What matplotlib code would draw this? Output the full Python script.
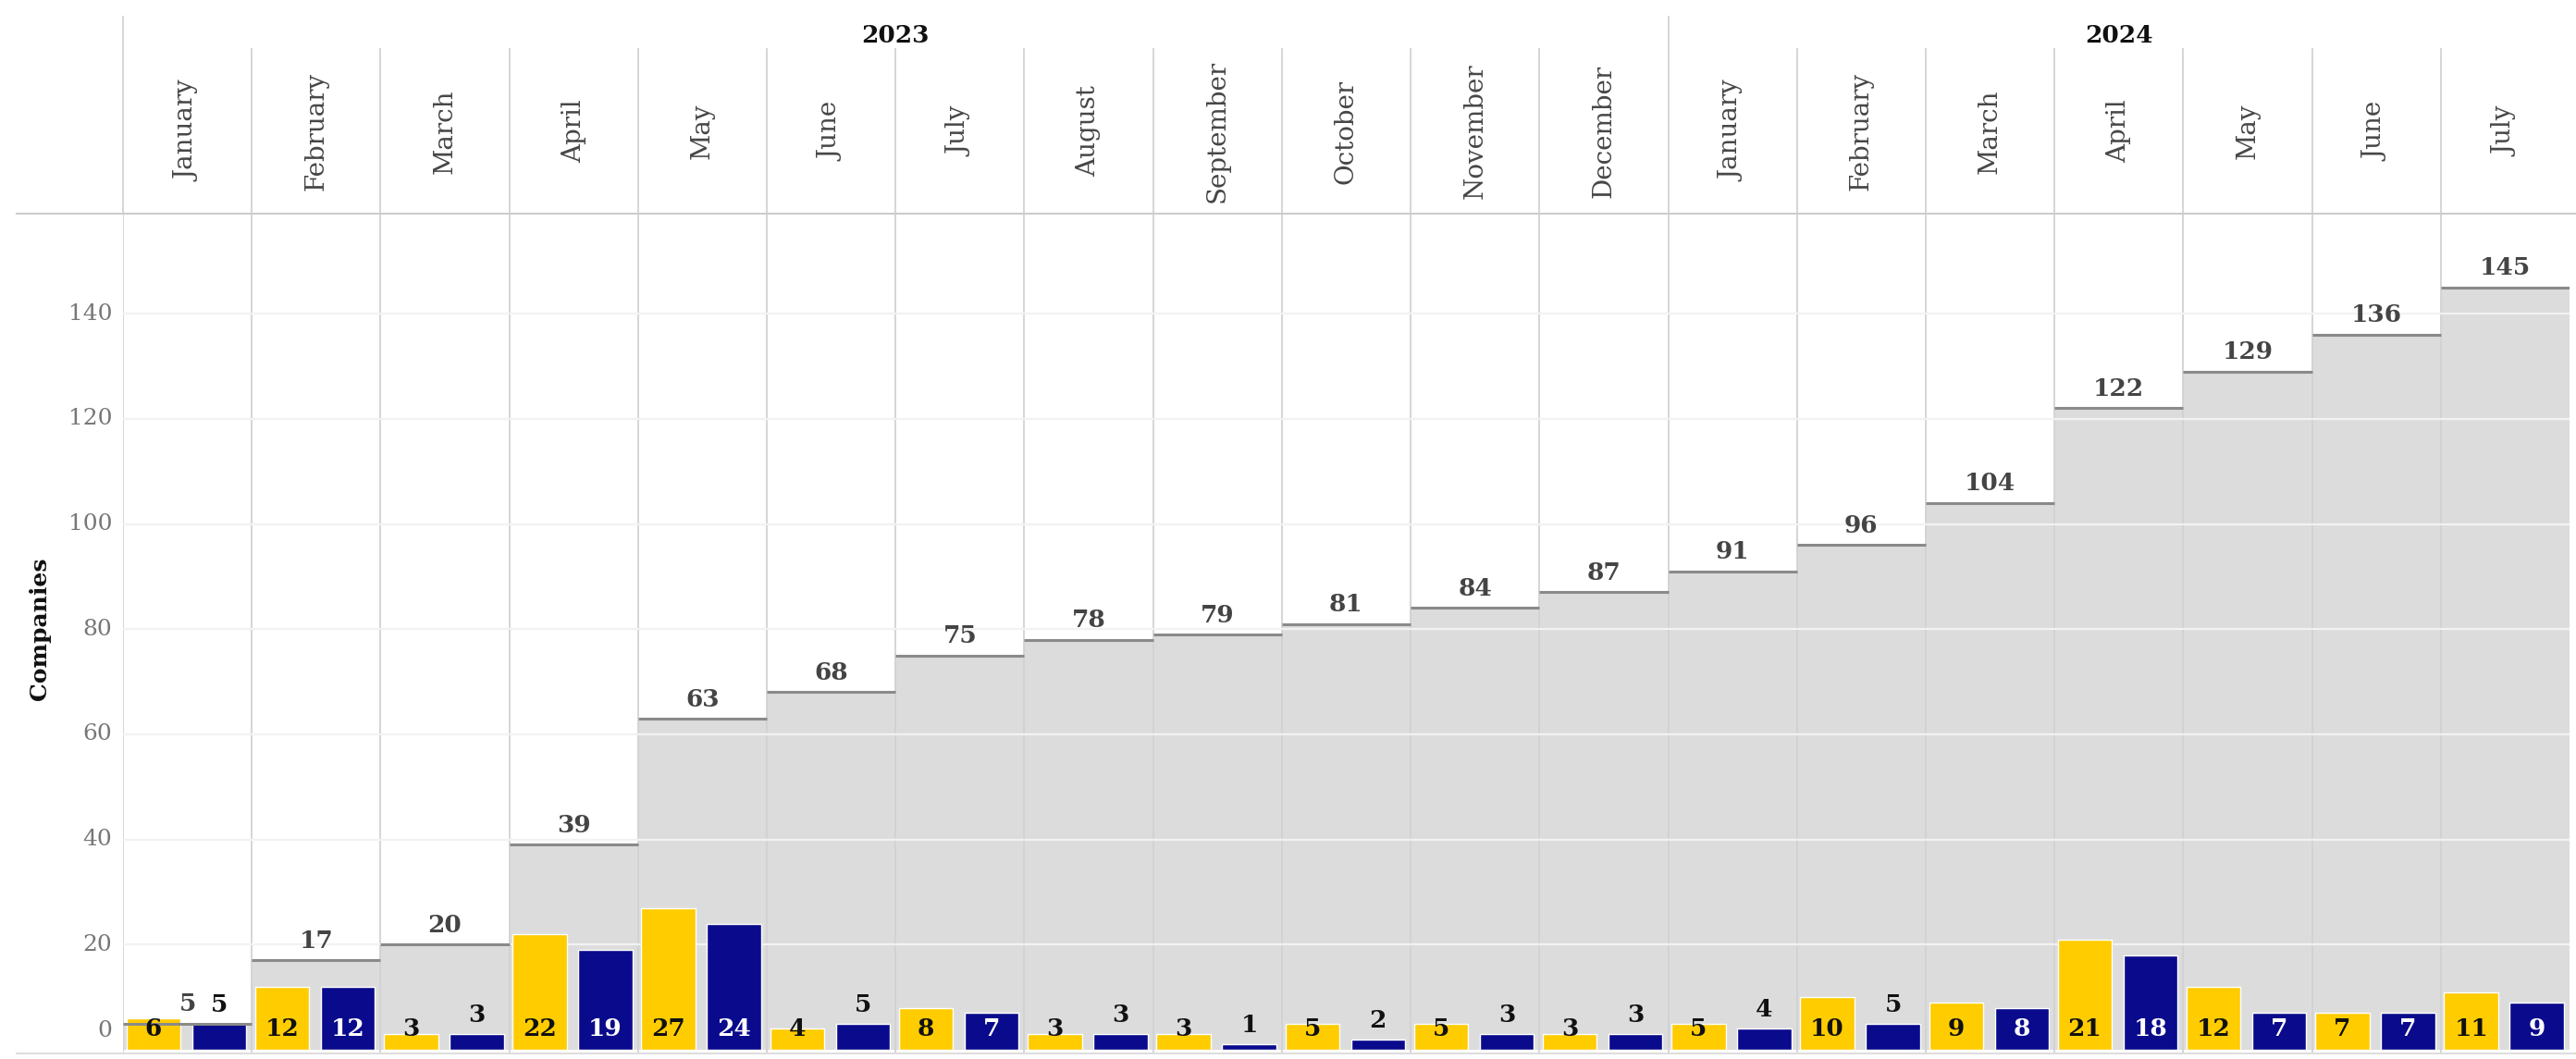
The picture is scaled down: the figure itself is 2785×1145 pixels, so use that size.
"""Monthly company counts with cumulative total, Tableau-style panel layout."""

import matplotlib

matplotlib.use("Agg")

import matplotlib.pyplot as plt
from matplotlib.lines import Line2D
from matplotlib.transforms import blended_transform_factory

plt.rcParams["font.family"] = ["DejaVu Serif"]

MONTHS = [
    "January", "February", "March", "April", "May", "June", "July", "August",
    "September", "October", "November", "December",
    "January", "February", "March", "April", "May", "June", "July",
]
YEARS = ["2023", "2024"]
YEAR_SPANS = [12, 7]
CUMULATIVE = [5, 17, 20, 39, 63, 68, 75, 78, 79, 81, 84, 87, 91, 96, 104, 122, 129, 136, 145]
YELLOW = [6, 12, 3, 22, 27, 4, 8, 3, 3, 5, 5, 3, 5, 10, 9, 21, 12, 7, 11]
BLUE = [5, 12, 3, 19, 24, 5, 7, 3, 1, 2, 3, 3, 4, 5, 8, 18, 7, 7, 9]
Y_TICKS = [0, 20, 40, 60, 80, 100, 120, 140]

YELLOW_C = "#ffcc00"
BLUE_C = "#0a0a8c"
AREA_C = "#dcdcdc"
SEP_C = "#d2d2d2"

W, H = 2785, 1145
LEFT, RIGHT = 133, 2778
HEAD_TOP, MONTH_TOP, HEAD_BOT = 18, 53, 231
PLOT_BOT = 1138


def fx(px):
    return px / W


def fy(px):
    return 1 - px / H


fig = plt.figure(figsize=(W / 100, H / 100), dpi=100)
ax = fig.add_axes([fx(LEFT), fy(PLOT_BOT), (RIGHT - LEFT) / W, (PLOT_BOT - HEAD_BOT) / H])
hx = fig.add_axes([fx(LEFT), fy(HEAD_BOT), (RIGHT - LEFT) / W, (HEAD_BOT - HEAD_TOP) / H])
n = len(MONTHS)

# header: years and months
hx.set_xlim(0, n)
hx.set_ylim(HEAD_BOT, HEAD_TOP)
hx.axis("off")
start = 0
year_starts = []
for year, span in zip(YEARS, YEAR_SPANS):
    year_starts.append(start)
    hx.text(start + span / 2, 38, year, ha="center", va="center",
            fontsize=19, fontweight="bold", color="#111111")
    start += span
for i, name in enumerate(MONTHS):
    top = HEAD_TOP if i in year_starts else MONTH_TOP
    hx.plot([i, i], [top, HEAD_BOT], color=SEP_C, lw=1.3, clip_on=False)
    hx.text(i + 0.5, 142, name, rotation=90, ha="center", va="center",
            fontsize=20, color="#464646")

# main panel
ax.set_xlim(0, n)
ax.set_ylim(-0.5, 159)
for s in ax.spines.values():
    s.set_visible(False)
ax.set_xticks([])
ax.set_yticks([])

# cumulative total as a stepped area, one flat segment per month
for i in range(n):
    ax.fill_between([i, i + 1], 0, CUMULATIVE[i], color=AREA_C, lw=0, zorder=1)
    ax.hlines(CUMULATIVE[i], i, i + 1, color="#8a8a8a", lw=2.2, zorder=3.5)
    ax.annotate(str(CUMULATIVE[i]), (i + 0.5, CUMULATIVE[i]), xytext=(0, 6),
                textcoords="offset points", ha="center", va="bottom",
                fontsize=19, fontweight="bold", color="#444444", zorder=4)

ax.vlines(range(n), -0.5, 159, color=SEP_C, lw=1.3, zorder=1.5)
ax.hlines(Y_TICKS[1:], 0, n, color="#f2f2f2", lw=1.6, zorder=1.6)

xs = list(range(n))
ax.bar([x + 0.236 for x in xs], YELLOW, width=0.42, color=YELLOW_C,
       edgecolor="white", lw=1, zorder=3)
ax.bar([x + 0.746 for x in xs], BLUE, width=0.42, color=BLUE_C,
       edgecolor="white", lw=1, zorder=3)

for i in range(n):
    ax.text(i + 0.236, 3.9, str(YELLOW[i]), ha="center", va="center",
            fontsize=19, fontweight="bold", color="#111111", zorder=5)
    b = BLUE[i]
    if b >= 6:
        ax.text(i + 0.746, 3.9, str(b), ha="center", va="center",
                fontsize=19, fontweight="bold", color="white", zorder=5)
    else:
        ax.text(i + 0.746, b + 3.6, str(b), ha="center", va="center",
                fontsize=19, fontweight="bold", color="#111111", zorder=5)

# y tick labels (Tableau pushes the 0 label up off the bottom edge)
trans = blended_transform_factory(ax.transAxes, ax.transData)
for t in Y_TICKS:
    ax.text(-0.0045, max(t, 3.6), str(t), transform=trans, ha="right",
            va="center", fontsize=18, color="#777777")

fig.text(fx(43), fy(680), "Companies", rotation=90, ha="center", va="center",
         fontsize=18, fontweight="bold", color="#111111")

fig.add_artist(Line2D([fx(18), 1], [fy(HEAD_BOT)] * 2, color="#cccccc", lw=1.5,
                      transform=fig.transFigure))
fig.add_artist(Line2D([fx(18), 1], [fy(1139)] * 2, color="#dddddd", lw=1.5,
                      transform=fig.transFigure))

fig.savefig("out.png", dpi=100, facecolor="white")
